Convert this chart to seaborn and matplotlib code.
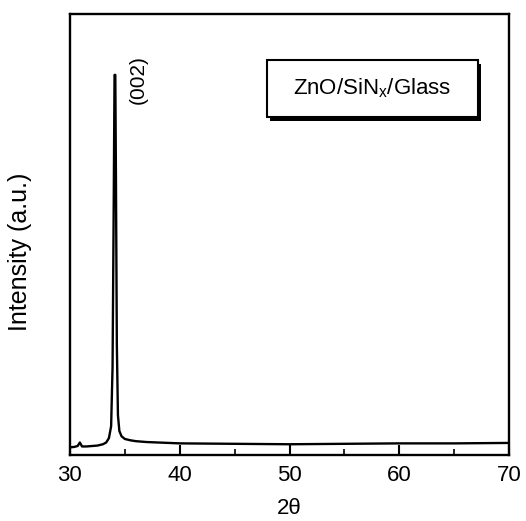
import numpy as np
import pandas as pd
import seaborn as sns
import matplotlib.pyplot as plt
import matplotlib.patheffects as pe
from matplotlib.patches import Rectangle
from matplotlib.ticker import MultipleLocator

# XRD pattern (2theta in degrees, intensity in arbitrary units)
two_theta = [30.0, 30.4, 30.7, 30.9, 31.1, 31.5, 32.0, 32.5, 33.0, 33.3, 33.55, 33.75,
             33.88, 33.98, 34.06, 34.13, 34.19, 34.27, 34.37, 34.5, 34.7, 35.0, 35.5,
             36.0, 37.0, 38.0, 40.0, 45.0, 50.0, 55.0, 60.0, 65.0, 70.0]
intensity = [1.7, 1.8, 2.0, 2.8, 1.9, 1.9, 2.0, 2.1, 2.4, 2.8, 3.8, 6.5,
             20.0, 55.0, 86.2, 86.2, 62.0, 25.0, 9.0, 5.4, 4.2, 3.6, 3.3,
             3.1, 2.9, 2.8, 2.6, 2.5, 2.4, 2.5, 2.6, 2.6, 2.7]
peak_label = '(002)'
peak_pos = (36.2, 85.2)
sample_label = 'ZnO/SiN$_\\mathregular{x}$/Glass'

df = pd.DataFrame({'2theta': two_theta, 'I': intensity})

sns.set_style('white')
plt.rcParams['font.family'] = ['Liberation Sans', 'DejaVu Sans']
plt.rcParams['text.color'] = 'black'
plt.rcParams['axes.labelcolor'] = 'black'

fig = plt.figure(figsize=(5.26, 5.21), dpi=100)
ax = fig.add_axes([0.133, 0.127, 0.835, 0.846])

sns.lineplot(data=df, x='2theta', y='I', ax=ax, color='black', linewidth=1.7)

ax.set_xlim(30, 70)
ax.set_ylim(0, 100)
ax.xaxis.set_major_locator(MultipleLocator(10))
ax.xaxis.set_minor_locator(MultipleLocator(5))
ax.tick_params(axis='x', which='both', bottom=True, direction='in', colors='black')
ax.tick_params(axis='x', which='major', length=7, width=1.5, labelsize=16, pad=7)
ax.tick_params(axis='x', which='minor', length=4, width=1.2)
ax.set_yticks([])
for s in ax.spines.values():
    s.set_color('black')
    s.set_linewidth(1.7)

ax.set_xlabel('2\u03b8', fontsize=16, labelpad=9)
ax.set_ylabel('Intensity (a.u.)', fontsize=18)
ax.yaxis.set_label_coords(-0.087, 0.46)

ax.text(peak_pos[0], peak_pos[1], peak_label, rotation=90, ha='center', va='center',
        fontsize=15)

# legend-like box with a drop shadow
box = Rectangle((0.449, 0.766), 0.48, 0.13, transform=ax.transAxes, fc='white',
                ec='black', lw=1.5, zorder=3,
                path_effects=[pe.SimplePatchShadow(offset=(2, -3), shadow_rgbFace='black',
                                                   alpha=1), pe.Normal()])
ax.add_patch(box)
ax.text(0.449 + 0.24, 0.766 + 0.065, sample_label, transform=ax.transAxes,
        ha='center', va='center', fontsize=16, zorder=4)

fig.savefig('out.png', dpi=100)
